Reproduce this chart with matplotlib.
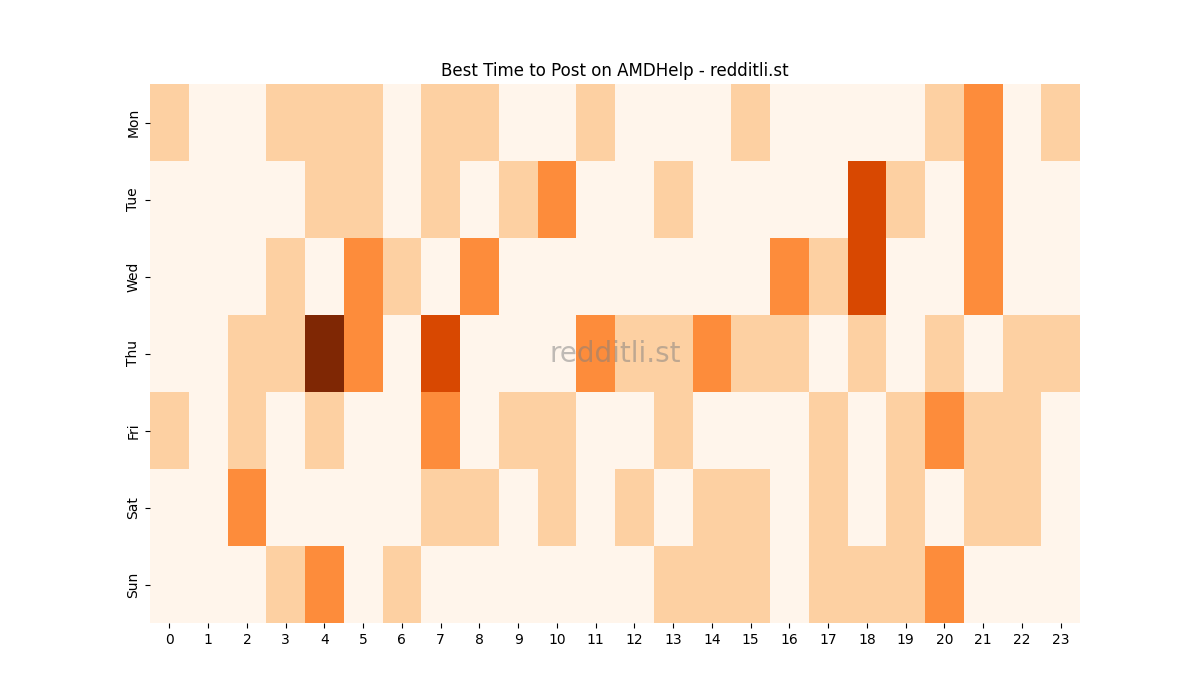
import matplotlib
matplotlib.use("Agg")
import matplotlib.pyplot as plt
import seaborn as sns
import pandas as pd

# post counts per weekday / hour
days = ["Mon", "Tue", "Wed", "Thu", "Fri", "Sat", "Sun"]
hours = list(range(24))

mon = [1, 0, 0, 1, 1, 1, 0, 1, 1, 0, 0, 1, 0, 0, 0, 1, 0, 0, 0, 0, 1, 2, 0, 1]
tue = [0, 0, 0, 0, 1, 1, 0, 1, 0, 1, 2, 0, 0, 1, 0, 0, 0, 0, 3, 1, 0, 2, 0, 0]
wed = [0, 0, 0, 1, 0, 2, 1, 0, 2, 0, 0, 0, 0, 0, 0, 0, 2, 1, 3, 0, 0, 2, 0, 0]
thu = [0, 0, 1, 1, 4, 2, 0, 3, 0, 0, 0, 2, 1, 1, 2, 1, 1, 0, 1, 0, 1, 0, 1, 1]
fri = [1, 0, 1, 0, 1, 0, 0, 2, 0, 1, 1, 0, 0, 1, 0, 0, 0, 1, 0, 1, 2, 1, 1, 0]
sat = [0, 0, 2, 0, 0, 0, 0, 1, 1, 0, 1, 0, 1, 0, 1, 1, 0, 1, 0, 1, 0, 1, 1, 0]
sun = [0, 0, 0, 1, 2, 0, 1, 0, 0, 0, 0, 0, 0, 1, 1, 1, 0, 1, 1, 1, 2, 0, 0, 0]

df = pd.DataFrame([mon, tue, wed, thu, fri, sat, sun], index=days, columns=hours)

fig, ax = plt.subplots(figsize=(12, 7), dpi=100)
sns.heatmap(df, cmap="Oranges", cbar=False, ax=ax)
ax.set_title("Best Time to Post on AMDHelp - redditli.st")

# watermark
ax.text(0.5, 0.5, "redditli.st", transform=ax.transAxes, fontsize=20,
        color="grey", alpha=0.5, ha="center", va="center")

plt.savefig("out.png")
